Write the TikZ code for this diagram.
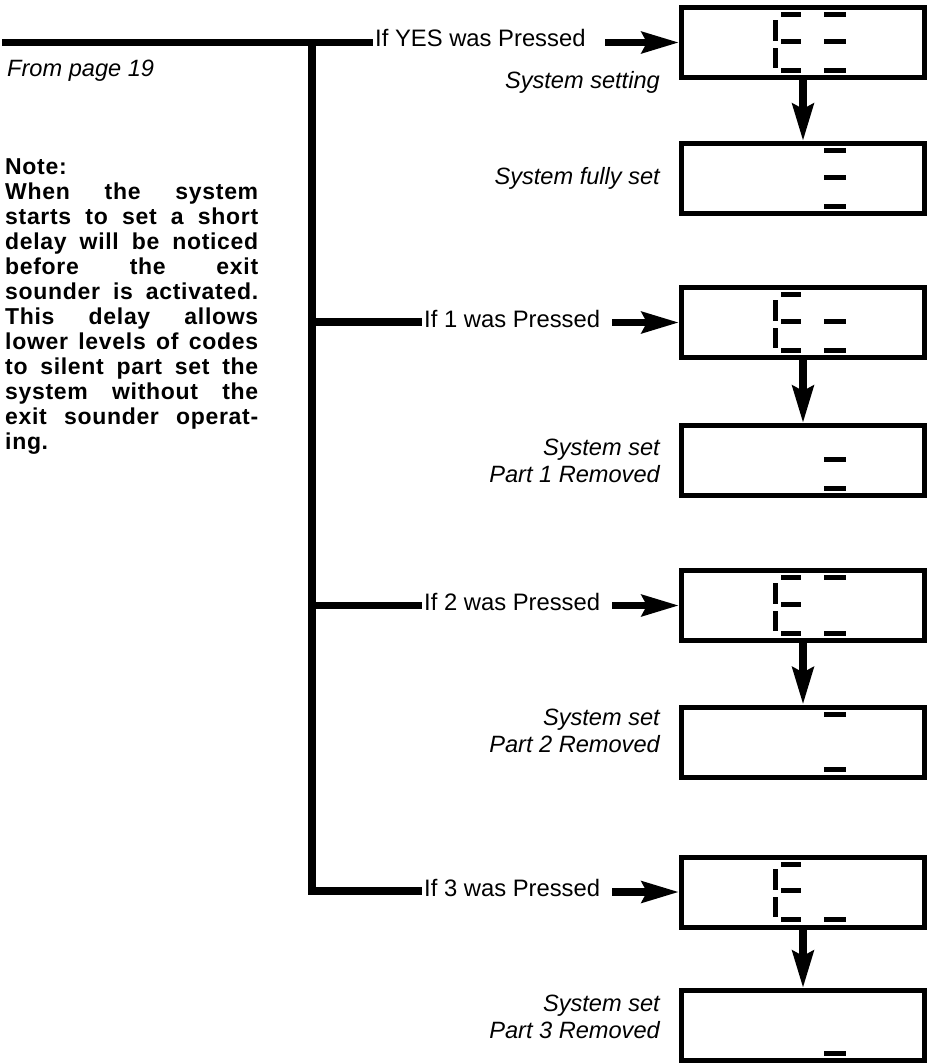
\documentclass[tikz,border=0pt]{standalone}
\usepackage{fontspec}
\setmainfont{Liberation Sans}
\newfontfamily\notefont[LetterSpace=3]{Liberation Sans}
\usetikzlibrary{arrows.meta}
\newcommand\SegE{\fill (-22,-30.5) rectangle (-2,-25.5); \fill (-22,-4) rectangle (-2,1); \fill (-22,25) rectangle (-2,30); \fill (-30,-23) rectangle (-25,-2); \fill (-30,5) rectangle (-25,25);}
\newcommand\SegTop{\fill (21,-30.5) rectangle (43,-25.5);}
\newcommand\SegMid{\fill (21,-4) rectangle (43,1);}
\newcommand\SegBot{\fill (21,25) rectangle (43,30);}
\newcommand\JLine[1]{\leavevmode\hbox to 253pt{#1}}
\begin{document}
\begin{tikzpicture}[x=1pt,y=-1pt,
  wire/.style={line width=7.5pt},
  arr/.style={line width=7.5pt,-{Stealth[length=37pt,width=21pt,inset=5pt]}},
  disp/.style={draw,line width=5pt,minimum width=243pt,minimum height=70pt,inner sep=0pt},
  lbl/.style={font=\fontsize{23.8}{27}\selectfont,inner sep=2pt},
  ilbl/.style={font=\fontsize{23.6}{27}\selectfont\itshape,inner sep=0pt,align=right}]
\useasboundingbox (0,0) rectangle (934,1063);

% display boxes
\node[disp] (b1) at (803,42.5) {};
\node[disp] (b2) at (803,178.5) {};
\node[disp] (b3) at (803,322.5) {};
\node[disp] (b4) at (803,460.5) {};
\node[disp] (b5) at (803,605.5) {};
\node[disp] (b6) at (803,742) {};
\node[disp] (b7) at (803,892) {};
\node[disp] (b8) at (803,1025.5) {};

% segments
\begin{scope}[shift={(b1.center)}] \SegE \SegTop \SegMid \SegBot \end{scope}
\begin{scope}[shift={(b2.center)}] \SegTop \SegMid \SegBot \end{scope}
\begin{scope}[shift={(b3.center)}] \SegE \SegMid \SegBot \end{scope}
\begin{scope}[shift={(b4.center)}] \SegMid \SegBot \end{scope}
\begin{scope}[shift={(b5.center)}] \SegE \SegTop \SegBot \end{scope}
\begin{scope}[shift={(b6.center)}] \SegTop \SegBot \end{scope}
\begin{scope}[shift={(b7.center)}] \SegE \SegBot \end{scope}
\begin{scope}[shift={(b8.center)}] \SegBot \end{scope}

% branch labels
\node[lbl,anchor=base west] (tyes) at (373,46.5) {If YES was Pressed};
\node[lbl,anchor=base west] (t1) at (422,327) {If 1 was Pressed};
\node[lbl,anchor=base west] (t2) at (422,610) {If 2 was Pressed};
\node[lbl,anchor=base west] (t3) at (422,896.5) {If 3 was Pressed};

% italic labels
\node[ilbl,anchor=base west] (from) at (7,76) {From page 19};
\node[ilbl,anchor=base east] (lset) at (660,88) {System setting};
\node[ilbl,anchor=base east] (lfull) at (660,184) {System fully set};
\node[ilbl,anchor=east] (l1) at (660,461) {System set\\Part 1 Removed};
\node[ilbl,anchor=east] (l2) at (660,731) {System set\\Part 2 Removed};
\node[ilbl,anchor=east] (l3) at (660,1017) {System set\\Part 3 Removed};

% note
\node[anchor=north west,inner sep=0pt,align=left,text width=253pt,
      font=\notefont\bfseries\fontsize{23}{25}\selectfont] (note) at (5,158.5)
 {Note:\\
  \JLine{When\hfill the\hfill system}\\
  \JLine{starts\hfill to\hfill set\hfill a\hfill short}\\
  \JLine{delay\hfill will\hfill be\hfill noticed}\\
  \JLine{before\hfill the\hfill exit}\\
  \JLine{sounder\hfill is\hfill activated.}\\
  \JLine{This\hfill delay\hfill allows}\\
  \JLine{lower\hfill levels\hfill of\hfill codes}\\
  \JLine{to\hfill silent\hfill part\hfill set\hfill the}\\
  \JLine{system\hfill without\hfill the}\\
  \JLine{exit\hfill sounder\hfill operat-}\\
  ing.};

% wires
\coordinate (s0) at (2,42.5);
\coordinate (j0) at (312,42.5);
\coordinate (j1) at (312,322);
\coordinate (j2) at (312,605.5);
\coordinate (j3) at (312,891);
\draw[wire] (s0) -- (tyes.west |- s0);
\draw[wire] (j0) -- (j3) -- (t3.west |- j3);
\draw[wire] (j1) -- (t1.west |- j1);
\draw[wire] (j2) -- (t2.west |- j2);

% arrows into displays
\coordinate (a1) at (605,42.5);
\coordinate (a3) at (612,322.5);
\coordinate (a5) at (612,605.5);
\coordinate (a7) at (612,892);
\draw[arr] (a1) -- (b1.west);
\draw[arr] (a3) -- (b3.west);
\draw[arr] (a5) -- (b5.west);
\draw[arr] (a7) -- (b7.west);

% arrows down
\draw[arr] (b1.south) -- (b2.north);
\draw[arr] (b3.south) -- (b4.north);
\draw[arr] (b5.south) -- (b6.north);
\draw[arr] (b7.south) -- (b8.north);
\end{tikzpicture}
\end{document}
